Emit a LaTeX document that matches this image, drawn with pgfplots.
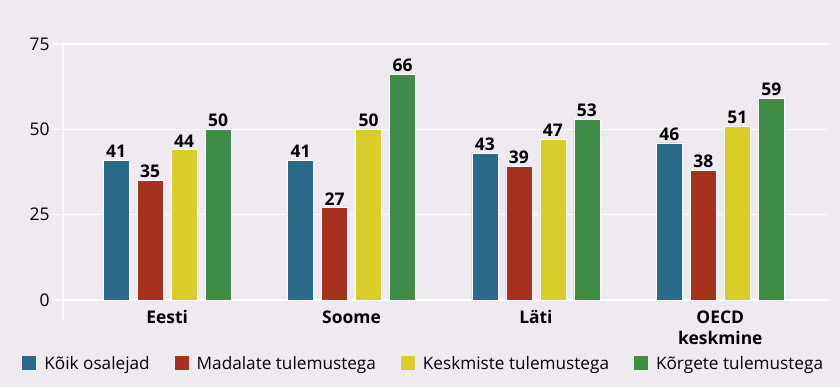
\documentclass[border=0pt]{standalone}
\usepackage{fontspec}
\setmainfont{Open Sans}
\usepackage{pgfplots}
\pgfplotsset{compat=1.18}
\definecolor{bg}{RGB}{238,234,240}
\definecolor{cblue}{RGB}{43,105,138}
\definecolor{cred}{RGB}{168,48,30}
\definecolor{cyellow}{RGB}{217,205,42}
\definecolor{cgreen}{RGB}{62,140,70}
\begin{document}
\begin{tikzpicture}
\fill[bg] (0,0) rectangle (840bp,387bp);
\useasboundingbox (0,0) rectangle (840bp,387bp);
\begin{axis}[
  at={(63bp,87bp)}, anchor=south west,
  scale only axis, width=755bp, height=256bp,
  ymin=0, ymax=75, ytick={0,25,50,75},
  xmin=-0.565, xmax=3.53,
  xtick={0,1,2,3},
  xticklabels={Eesti,Soome,Läti,{OECD\\keskmine}},
  xticklabel style={font=\fontsize{17.5}{21}\selectfont\bfseries, align=center, anchor=north, yshift=3bp},
  yticklabel style={font=\fontsize{17.5}{20}\selectfont, xshift=0bp},
  /pgf/number format/assume math mode=true,
  axis line style={draw=none},
  ymajorgrids, grid style={white, line width=1.3bp},
  major tick style={white, line width=1.3bp},
  tick align=outside, major tick length=10bp,
  xtick style={draw=none},
  ybar=8bp, bar width=26bp,
  clip=false,
  every node near coord/.append style={font=\fontsize{17.5}{20}\selectfont\bfseries, yshift=-1bp},
  nodes near coords,
  legend columns=4,
  legend style={at={(-0.058,-0.247)}, anchor=west, draw=none, fill=none,
    font=\fontsize{17.25}{20}\selectfont,
    /tikz/every odd column/.append style={column sep=6bp},
    /tikz/every even column/.append style={column sep=23bp}},
  legend image code/.code={\fill[#1,draw=none] (0bp,-7bp) rectangle (14bp,7bp);},
]
\addplot[fill=cblue, draw=white, line width=0.8bp] coordinates {(0,41) (1,41) (2,43) (3,46)};
\addplot[fill=cred, draw=white, line width=0.8bp] coordinates {(0,35) (1,27) (2,39) (3,38)};
\addplot[fill=cyellow, draw=white, line width=0.8bp] coordinates {(0,44) (1,50) (2,47) (3,51)};
\addplot[fill=cgreen, draw=white, line width=0.8bp] coordinates {(0,50) (1,66) (2,53) (3,59)};
\legend{Kõik osalejad, Madalate tulemustega, Keskmiste tulemustega, Kõrgete tulemustega}
\draw[white, line width=1.3bp] (rel axis cs:0,1.008) -- (rel axis cs:0,-0.078);
\end{axis}
\end{tikzpicture}
\end{document}
